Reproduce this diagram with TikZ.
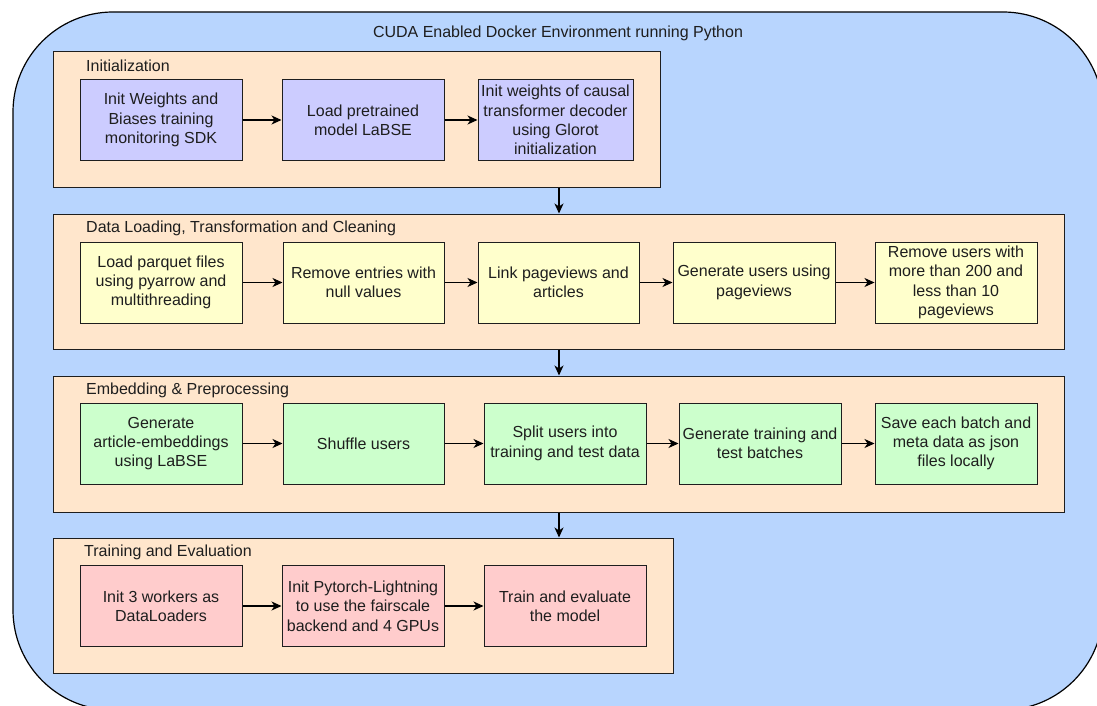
\documentclass[tikz,border=0pt]{standalone}
\usepackage{fontspec}
\setmainfont{Liberation Sans}
\usetikzlibrary{arrows.meta}

\definecolor{envblue}{RGB}{184,213,254}
\definecolor{stagebg}{RGB}{255,230,204}
\definecolor{initbox}{RGB}{204,204,255}
\definecolor{databox}{RGB}{255,255,204}
\definecolor{embbox}{RGB}{204,255,204}
\definecolor{trainbox}{RGB}{255,204,204}
\definecolor{ink}{RGB}{30,30,30}

\tikzset{
  stage/.style={draw=ink, line width=1pt, fill=stagebg, rectangle, inner sep=0pt, minimum height=135pt},
  stagelabel/.style={anchor=west, inner sep=0pt, text=ink, font=\fontsize{16}{19}\selectfont},
  stepbox/.style={draw=ink, line width=1pt, rectangle, inner sep=0pt, align=center,
    minimum width=162pt, minimum height=81pt, text=ink,
    font=\fontsize{16}{19.3}\selectfont},
  arr/.style={draw=black, line width=1.1pt, -{Stealth[length=10pt, width=9pt, inset=3pt]}},
}

\begin{document}
\begin{tikzpicture}[x=1pt, y=-1pt]
  \useasboundingbox (0,0) rectangle (1097,706);

  % Docker environment
  \begin{scope}
    \clip (0,0) rectangle (1097,706);
    \draw[draw=black, line width=1.2pt, fill=envblue, rounded corners=100pt]
      (13,12) rectangle (1103,710);
  \end{scope}
  \node[text=ink, font=\fontsize{16}{19}\selectfont] (title) at (558,33) {CUDA Enabled Docker Environment running Python};

  % Column of the stage-to-stage arrows
  \coordinate (col) at (559,0);

  % Stages
  \node[stage, minimum width=607pt] (s1) at (356.5,119.5) {};
  \node[stagelabel] (l1) at (86,66) {Initialization};
  \node[stage, minimum width=1011pt] (s2) at (558.5,281.5) {};
  \node[stagelabel] (l2) at (86,228) {Data Loading, Transformation and Cleaning};
  \node[stage, minimum width=1011pt, minimum height=136pt] (s3) at (558.5,444) {};
  \node[stagelabel] (l3) at (86,390.5) {Embedding \& Preprocessing};
  \node[stage, minimum width=620pt] (s4) at (363,605.5) {};
  \node[stagelabel] (l4) at (84,552) {Training and Evaluation};

  % Initialization
  \node[stepbox, fill=initbox] (i1) at (161,120) {Init Weights and\\Biases training\\monitoring SDK};
  \node[stepbox, fill=initbox] (i2) at (363,120) {Load pretrained\\model LaBSE};
  \node[stepbox, fill=initbox, minimum width=155pt] (i3) at (555.5,120) {Init weights of causal\\transformer decoder\\using Glorot\\initialization};

  % Data loading
  \node[stepbox, fill=databox] (d1) at (161,282.5) {Load parquet files\\using pyarrow and\\multithreading};
  \node[stepbox, fill=databox, minimum width=161pt] (d2) at (363.5,282.5) {Remove entries with\\null values};
  \node[stepbox, fill=databox, minimum width=161pt] (d3) at (558.5,282.5) {Link pageviews and\\articles};
  \node[stepbox, fill=databox] (d4) at (754,282.5) {Generate users using\\pageviews};
  \node[stepbox, fill=databox] (d5) at (956,282.5) {Remove users with\\more than 200 and\\less than 10\\pageviews};

  % Embedding
  \node[stepbox, fill=embbox] (e1) at (161,443.5) {Generate\\article-embeddings\\using LaBSE};
  \node[stepbox, fill=embbox, minimum width=161pt] (e2) at (363.5,443.5) {Shuffle users};
  \node[stepbox, fill=embbox] (e3) at (565,443.5) {Split users into\\training and test data};
  \node[stepbox, fill=embbox] (e4) at (760,443.5) {Generate training and\\test batches};
  \node[stepbox, fill=embbox] (e5) at (956,443.5) {Save each batch and\\meta data as json\\files locally};

  % Training
  \node[stepbox, fill=trainbox] (t1) at (161,606) {Init 3 workers as\\DataLoaders};
  \node[stepbox, fill=trainbox] (t2) at (363,606) {Init Pytorch-Lightning\\to use the fairscale\\backend and 4 GPUs};
  \node[stepbox, fill=trainbox] (t3) at (565,606) {Train and evaluate\\the model};

  % Flow inside the stages
  \draw[arr] (i1) -- (i2);
  \draw[arr] (i2) -- (i3);
  \draw[arr] (d1) -- (d2);
  \draw[arr] (d2) -- (d3);
  \draw[arr] (d3) -- (d4);
  \draw[arr] (d4) -- (d5);
  \draw[arr] (e1) -- (e2);
  \draw[arr] (e2) -- (e3);
  \draw[arr] (e3) -- (e4);
  \draw[arr] (e4) -- (e5);
  \draw[arr] (t1) -- (t2);
  \draw[arr] (t2) -- (t3);

  % Flow between the stages
  \draw[arr] (s1.south -| col) -- (s2.north -| col);
  \draw[arr] (s2.south -| col) -- (s3.north -| col);
  \draw[arr] (s3.south -| col) -- (s4.north -| col);
\end{tikzpicture}
\end{document}
